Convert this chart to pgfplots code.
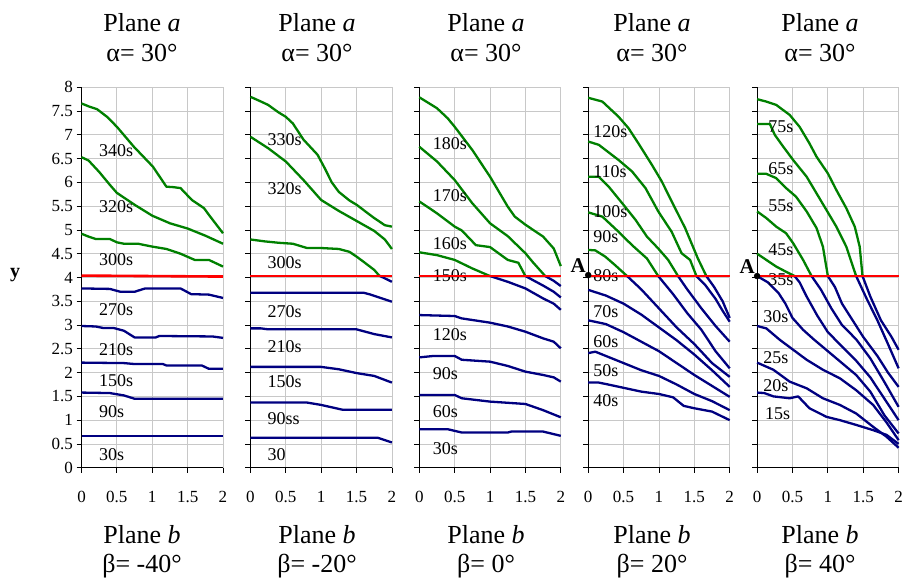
\documentclass[border=0pt]{standalone}
\usepackage{fontspec}
\setmainfont{Liberation Serif}
\usepackage{pgfplots}
\pgfplotsset{compat=1.18}
\definecolor{cgreen}{RGB}{0,128,0}
\definecolor{cblue}{RGB}{0,0,128}
\definecolor{cgrid}{RGB}{200,200,200}
\pgfplotsset{
  panel/.style={
    scale only axis, width=141.5pt, height=380.4pt,
    xmin=0,xmax=2,ymin=0,ymax=8,
    xtick={0,0.5,1,1.5,2},
    ytick={0,0.5,1,1.5,2,2.5,3,3.5,4,4.5,5,5.5,6,6.5,7,7.5,8},
    grid=major, grid style={cgrid, line width=0.8pt},
    axis x line*=bottom, axis y line*=left,
    axis line style={black, line width=0.8pt, -},
    tick align=outside, major tick length=5pt,
    tick style={black, line width=0.8pt},
    /pgf/number format/assume math mode=true,
    ticklabel style={font=\fontsize{17}{17}\selectfont},
    xticklabel style={yshift=-15pt},
    anchor=south west,
    clip=false,
  },
  noy/.style={yticklabels={}},
  g/.style={cgreen, line width=2.3pt, line join=round, no marks},
  b/.style={cblue, line width=2.3pt, line join=round, no marks},
  r/.style={red, line width=2.6pt, no marks},
}
\tikzset{
  lab/.style={font=\fontsize{18}{18}\selectfont, anchor=west, inner sep=0pt},
  amark/.style={font=\fontsize{21}{21}\selectfont\bfseries, anchor=south east, inner sep=0pt},
  ttlf/.style={font=\fontsize{26}{26}\selectfont, anchor=base, inner sep=0pt},
}
\newcommand{\ttl}[2]{%
  \node[ttlf] at (#1pt,547.3pt) {Plane \textit{a}};
  \node[ttlf] at (#1pt,517.3pt) {α= 30°};
  \node[ttlf] at (#1pt,36pt) {Plane \textit{b}};
  \node[ttlf] at (#1pt,6.5pt) {β= #2};
}
\begin{document}
\begin{tikzpicture}
% ---------------- Panel 1 ----------------
\begin{axis}[panel, at={(81.5pt,111.3pt)}]
\addplot[g] coordinates {(0,7.66)(0.1,7.6)(0.22,7.54)(0.36,7.38)(0.5,7.17)(0.74,6.75)(1.01,6.33)(1.2,5.91)(1.3,5.9)(1.4,5.88)(1.56,5.63)(1.73,5.46)(1.82,5.28)(2,4.93)};
\addplot[g] coordinates {(0,6.53)(0.1,6.46)(0.25,6.22)(0.4,5.95)(0.5,5.78)(0.6,5.68)(0.75,5.53)(1.0,5.3)(1.25,5.14)(1.5,5.03)(1.75,4.88)(2,4.71)};
\addplot[g] coordinates {(0,4.92)(0.1,4.86)(0.2,4.81)(0.4,4.81)(0.5,4.74)(0.6,4.71)(0.8,4.71)(1.0,4.65)(1.2,4.60)(1.4,4.50)(1.6,4.37)(1.8,4.37)(2,4.23)};
\addplot[b] coordinates {(0,3.77)(0.4,3.76)(0.55,3.70)(0.75,3.70)(0.9,3.77)(1.4,3.77)(1.55,3.65)(1.8,3.64)(2,3.57)};
\addplot[b] coordinates {(0,2.98)(0.2,2.97)(0.3,2.94)(0.45,2.94)(0.6,2.88)(0.75,2.74)(1.05,2.74)(1.1,2.77)(1.85,2.76)(2,2.73)};
\addplot[b] coordinates {(0,2.21)(0.6,2.20)(0.75,2.18)(1.15,2.18)(1.2,2.15)(1.7,2.15)(1.8,2.08)(2,2.08)};
\addplot[b] coordinates {(0,1.58)(0.4,1.57)(0.6,1.52)(0.75,1.45)(2,1.45)};
\addplot[b] coordinates {(0,0.67)(2,0.67)};
\node[lab] at (axis cs:0.245,6.67) {340s};
\node[lab] at (axis cs:0.245,5.49) {320s};
\node[lab] at (axis cs:0.245,4.37) {300s};
\node[lab] at (axis cs:0.245,3.33) {270s};
\node[lab] at (axis cs:0.245,2.49) {210s};
\node[lab] at (axis cs:0.245,1.84) {150s};
\node[lab] at (axis cs:0.245,1.18) {90s};
\node[lab] at (axis cs:0.245,0.27) {30s};
\addplot[r] coordinates {(0,4.04)(2,4.02)};
\end{axis}
% ---------------- Panel 2 ----------------
\begin{axis}[panel, noy, at={(250.4pt,111.3pt)}]
\addplot[g] coordinates {(0,7.80)(0.15,7.70)(0.25,7.63)(0.4,7.47)(0.5,7.38)(0.6,7.24)(0.75,6.90)(0.95,6.58)(1.05,6.30)(1.15,6.00)(1.25,5.80)(1.4,5.62)(1.5,5.53)(1.75,5.25)(1.9,5.10)(2,5.07)};
\addplot[g] coordinates {(0,6.96)(0.25,6.72)(0.5,6.44)(0.75,6.05)(1.0,5.63)(1.25,5.40)(1.5,5.19)(1.75,4.98)(1.9,4.80)(2,4.60)};
\addplot[g] coordinates {(0,4.80)(0.2,4.76)(0.4,4.73)(0.6,4.71)(0.8,4.62)(1.0,4.62)(1.25,4.60)(1.4,4.54)(1.5,4.44)(1.6,4.33)(1.75,4.16)(1.82,4.04)};
\addplot[b] coordinates {(1.82,4.04)(2,3.91)};
\addplot[b] coordinates {(0,3.68)(1.6,3.68)(1.7,3.64)(2,3.49)};
\addplot[b] coordinates {(0,2.93)(0.15,2.93)(0.25,2.91)(1.5,2.91)(1.75,2.81)(2,2.74)};
\addplot[b] coordinates {(0,2.12)(1.0,2.12)(1.1,2.10)(1.25,2.07)(1.5,1.99)(1.75,1.93)(2,1.79)};
\addplot[b] coordinates {(0,1.37)(0.8,1.37)(1.0,1.32)(1.3,1.22)(2,1.22)};
\addplot[b] coordinates {(0,0.63)(1.8,0.63)(2,0.53)};
\node[lab] at (axis cs:0.24,6.89) {330s};
\node[lab] at (axis cs:0.24,5.88) {320s};
\node[lab] at (axis cs:0.24,4.31) {300s};
\node[lab] at (axis cs:0.24,3.28) {270s};
\node[lab] at (axis cs:0.24,2.55) {210s};
\node[lab] at (axis cs:0.24,1.81) {150s};
\node[lab] at (axis cs:0.24,1.04) {90ss};
\node[lab] at (axis cs:0.24,0.27) {30};
\addplot[r] coordinates {(0,4.03)(2,4.03)};
\end{axis}
% ---------------- Panel 3 ----------------
\begin{axis}[panel, noy, at={(419.3pt,111.3pt)}]
\addplot[g] coordinates {(0,7.79)(0.25,7.56)(0.4,7.35)(0.5,7.17)(0.75,6.68)(1.0,6.12)(1.25,5.49)(1.35,5.28)(1.5,5.11)(1.75,4.86)(1.9,4.61)(2,4.24)};
\addplot[g] coordinates {(0,6.75)(0.25,6.44)(0.5,6.05)(0.75,5.56)(1.0,5.14)(1.25,4.87)(1.5,4.51)(1.6,4.33)(1.78,4.03)};
\addplot[b] coordinates {(1.78,4.03)(1.9,3.93)(2,3.82)};
\addplot[g] coordinates {(0,5.60)(0.25,5.35)(0.5,5.07)(0.6,4.99)(0.8,4.68)(1.0,4.64)(1.25,4.37)(1.4,4.31)(1.5,4.03)};
\addplot[b] coordinates {(1.5,4.03)(1.75,3.83)(1.9,3.70)(2,3.58)};
\addplot[g] coordinates {(0,4.53)(0.25,4.47)(0.5,4.37)(0.75,4.19)(1.0,4.03)};
\addplot[b] coordinates {(1.0,4.03)(1.25,3.91)(1.5,3.77)(1.75,3.56)(1.9,3.45)(2,3.32)};
\addplot[b] coordinates {(0,3.21)(0.5,3.19)(0.6,3.14)(1.0,3.05)(1.25,2.97)(1.5,2.86)(1.75,2.72)(1.9,2.65)(2,2.51)};
\addplot[b] coordinates {(0,2.32)(0.2,2.35)(0.5,2.35)(0.6,2.27)(1.0,2.23)(1.25,2.14)(1.5,2.02)(1.75,1.95)(1.9,1.90)(2,1.81)};
\addplot[b] coordinates {(0,1.53)(0.5,1.53)(0.6,1.46)(1.0,1.39)(1.5,1.34)(1.75,1.21)(2,1.06)};
\addplot[b] coordinates {(0,0.81)(0.4,0.81)(0.6,0.74)(1.25,0.74)(1.3,0.76)(1.75,0.76)(2,0.67)};
\node[lab] at (axis cs:0.19,6.82) {180s};
\node[lab] at (axis cs:0.19,5.72) {170s};
\node[lab] at (axis cs:0.19,4.72) {160s};
\node[lab] at (axis cs:0.19,4.05) {150s};
\node[lab] at (axis cs:0.19,2.79) {120s};
\node[lab] at (axis cs:0.19,1.98) {90s};
\node[lab] at (axis cs:0.19,1.18) {60s};
\node[lab] at (axis cs:0.19,0.41) {30s};
\addplot[r] coordinates {(0,4.03)(2,4.03)};
\end{axis}
% ---------------- Panel 4 ----------------
\begin{axis}[panel, noy, at={(588.2pt,111.3pt)}]
\addplot[g] coordinates {(0,7.78)(0.2,7.70)(0.43,7.38)(0.57,7.14)(0.71,6.82)(0.9,6.37)(1.04,6.02)(1.18,5.60)(1.37,5.04)(1.55,4.40)(1.67,4.03)};
\addplot[b] coordinates {(1.67,4.03)(1.78,3.80)(1.9,3.50)(2.0,3.15)};
\addplot[g] coordinates {(0,6.86)(0.15,6.79)(0.43,6.47)(0.62,6.23)(0.81,5.88)(0.99,5.39)(1.18,4.96)(1.32,4.51)(1.44,4.37)(1.53,4.03)};
\addplot[b] coordinates {(1.53,4.03)(1.65,3.85)(1.8,3.55)(1.9,3.30)(2.0,3.07)};
\addplot[g] coordinates {(0,6.12)(0.15,6.12)(0.29,5.91)(0.52,5.49)(0.67,5.21)(0.83,4.86)(0.99,4.61)(1.13,4.37)(1.27,4.03)};
\addplot[b] coordinates {(1.27,4.03)(1.4,3.75)(1.6,3.35)(1.8,2.98)(2.0,2.65)};
\addplot[g] coordinates {(0,5.37)(0.2,5.28)(0.43,4.96)(0.62,4.68)(0.83,4.40)(0.99,4.03)};
\addplot[b] coordinates {(0.99,4.03)(1.2,3.65)(1.4,3.25)(1.6,2.90)(1.8,2.45)(2.0,2.09)};
\addplot[g] coordinates {(0,4.58)(0.1,4.57)(0.24,4.44)(0.38,4.26)(0.55,4.03)};
\addplot[b] coordinates {(0.55,4.03)(0.75,3.75)(1.0,3.35)(1.25,2.95)(1.5,2.60)(1.75,2.20)(2.0,1.91)};
\addplot[b] coordinates {(0,3.74)(0.25,3.62)(0.5,3.45)(0.75,3.22)(1.0,2.95)(1.25,2.68)(1.5,2.38)(1.75,2.05)(2.0,1.70)};
\addplot[b] coordinates {(0,3.10)(0.25,3.02)(0.5,2.85)(0.75,2.65)(1.0,2.45)(1.25,2.20)(1.5,1.95)(1.75,1.72)(2.0,1.49)};
\addplot[b] coordinates {(0,2.41)(0.1,2.44)(0.25,2.35)(0.5,2.20)(0.75,2.05)(1.0,1.93)(1.25,1.75)(1.5,1.55)(1.75,1.40)(2.0,1.21)};
\addplot[b] coordinates {(0,1.79)(0.15,1.79)(0.25,1.76)(0.5,1.68)(0.75,1.60)(1.0,1.55)(1.2,1.48)(1.35,1.30)(1.5,1.25)(1.75,1.18)(2.0,1.00)};
\node[lab] at (axis cs:0.07,7.07) {120s};
\node[lab] at (axis cs:0.07,6.23) {110s};
\node[lab] at (axis cs:0.07,5.39) {100s};
\node[lab] at (axis cs:0.07,4.85) {90s};
\node[lab] at (axis cs:0.07,4.05) {80s};
\node[lab] at (axis cs:0.07,3.28) {70s};
\node[lab] at (axis cs:0.07,2.65) {60s};
\node[lab] at (axis cs:0.07,2.04) {50s};
\node[lab] at (axis cs:0.07,1.41) {40s};
\addplot[r] coordinates {(0,4.03)(2,4.03)};
\addplot[only marks, mark=*, mark size=3pt, black] coordinates {(0,4.05)};
\node[amark] at (axis cs:-0.03,4.1) {A};
\end{axis}
% ---------------- Panel 5 ----------------
\begin{axis}[panel, noy, at={(757.1pt,111.3pt)}]
\addplot[g] coordinates {(0,7.75)(0.13,7.70)(0.27,7.63)(0.46,7.42)(0.60,7.17)(0.74,6.82)(0.84,6.54)(1.0,6.19)(1.12,5.84)(1.26,5.46)(1.38,5.07)(1.45,4.65)(1.49,4.03)};
\addplot[b] coordinates {(1.49,4.03)(1.6,3.60)(1.75,3.10)(1.9,2.75)(2.0,2.48)};
\addplot[g] coordinates {(0,7.23)(0.18,7.23)(0.25,7.00)(0.37,6.75)(0.51,6.47)(0.70,6.12)(0.84,5.77)(0.98,5.42)(1.12,5.07)(1.26,4.65)(1.4,4.03)};
\addplot[b] coordinates {(1.4,4.03)(1.55,3.55)(1.7,3.10)(1.85,2.60)(2.0,2.09)};
\addplot[g] coordinates {(0,6.18)(0.13,6.18)(0.27,6.09)(0.41,5.88)(0.55,5.70)(0.70,5.39)(0.84,5.04)(0.93,4.65)(1.0,4.03)};
\addplot[b] coordinates {(1.0,4.03)(1.1,3.80)(1.2,3.45)(1.35,3.10)(1.5,2.75)(1.7,2.35)(1.85,2.00)(2.0,1.70)};
\addplot[g] coordinates {(0,5.39)(0.13,5.25)(0.27,5.07)(0.41,4.93)(0.51,4.72)(0.65,4.37)(0.77,4.03)};
\addplot[b] coordinates {(0.77,4.03)(0.9,3.75)(1.05,3.35)(1.2,3.00)(1.4,2.70)(1.6,2.30)(1.8,1.80)(2.0,1.28)};
\addplot[g] coordinates {(0,4.50)(0.13,4.37)(0.27,4.23)(0.41,4.12)(0.53,4.03)};
\addplot[b] coordinates {(0.53,4.03)(0.6,3.90)(0.7,3.60)(0.85,3.20)(1.0,2.85)(1.2,2.55)(1.4,2.25)(1.6,1.90)(1.8,1.45)(2.0,1.00)};
\addplot[b] coordinates {(0,4.03)(0.15,3.90)(0.3,3.68)(0.4,3.45)(0.5,3.15)(0.65,2.90)(0.8,2.70)(1.0,2.45)(1.2,2.20)(1.4,1.95)(1.6,1.60)(1.8,1.10)(2.0,0.72)};
\addplot[b] coordinates {(0,2.98)(0.13,2.93)(0.32,2.69)(0.51,2.48)(0.70,2.27)(0.93,2.06)(1.17,1.88)(1.40,1.63)(1.64,1.32)(1.83,0.95)(2.0,0.58)};
\addplot[b] coordinates {(0,2.21)(0.23,2.06)(0.46,1.81)(0.70,1.67)(0.93,1.46)(1.17,1.32)(1.40,1.14)(1.64,0.86)(1.83,0.65)(2.0,0.42)};
\addplot[b] coordinates {(0,1.58)(0.1,1.57)(0.23,1.50)(0.46,1.46)(0.58,1.50)(0.74,1.25)(0.98,1.07)(1.17,1.00)(1.40,0.90)(1.64,0.79)(1.83,0.69)(2.0,0.50)};
\node[lab] at (axis cs:0.155,7.17) {75s};
\node[lab] at (axis cs:0.155,6.28) {65s};
\node[lab] at (axis cs:0.155,5.50) {55s};
\node[lab] at (axis cs:0.155,4.59) {45s};
\node[lab] at (axis cs:0.155,3.96) {35s};
\node[lab] at (axis cs:0.085,3.18) {30s};
\node[lab] at (axis cs:0.085,2.32) {25s};
\node[lab] at (axis cs:0.085,1.72) {20s};
\node[lab] at (axis cs:0.11,1.14) {15s};
\addplot[r] coordinates {(0,4.03)(2,4.03)};
\addplot[only marks, mark=*, mark size=3pt, black] coordinates {(0,4.03)};
\node[amark] at (axis cs:-0.03,4.08) {A};
\end{axis}
% ---------------- Titles ----------------
\ttl{142}{-40°}
\ttl{317}{-20°}
\ttl{486}{0°}
\ttl{652}{20°}
\ttl{820}{40°}
\node[font=\fontsize{20}{20}\selectfont\bfseries] at (15pt,304pt) {y};
\pgfresetboundingbox
\path[use as bounding box] (0,0) rectangle (905pt,579pt);
\end{tikzpicture}
\end{document}
